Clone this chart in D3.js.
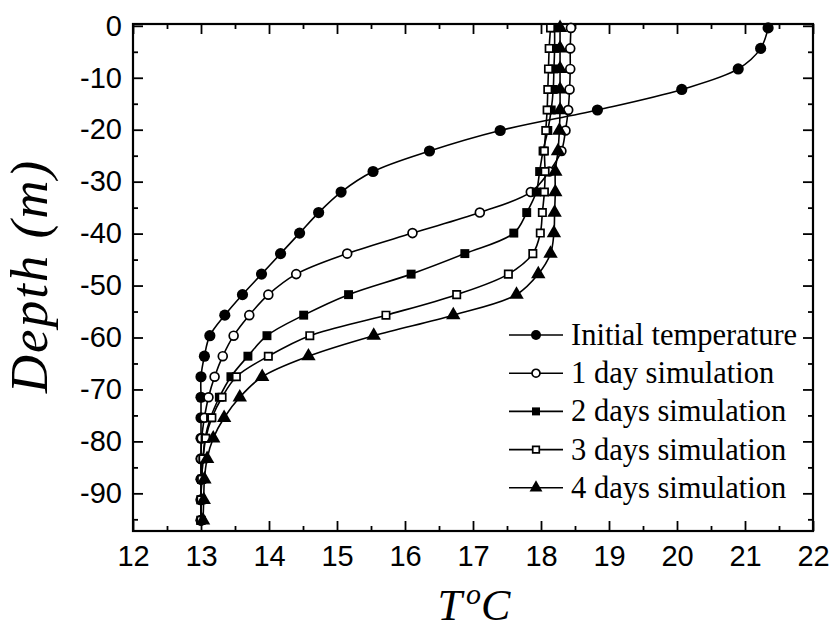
<!DOCTYPE html>
<html><head><meta charset="utf-8">
<script src="https://cdn.jsdelivr.net/npm/d3@7"></script>
<style>body{margin:0;background:#fff}svg{display:block}</style>
</head><body>
<script>
const depths = [-0.4,-4.35,-8.3,-12.25,-16.2,-20.15,-24.1,-28.05,-32.0,-35.95,-39.9,-43.85,-47.8,-51.75,-55.7,-59.65,-63.6,-67.55,-71.5,-75.45,-79.4,-83.35,-87.3,-91.25,-95.2];
const initialTemp = [21.34,21.23,20.90,20.07,18.83,17.40,16.36,15.53,15.06,14.73,14.45,14.17,13.89,13.61,13.35,13.13,13.05,13.00,13.00,13.00,13.00,13.00,13.00,13.00,13.00];
const day1 = [18.44,18.43,18.43,18.42,18.40,18.36,18.30,18.12,17.85,17.10,16.11,15.15,14.40,13.99,13.71,13.48,13.32,13.20,13.11,13.05,13.01,13.00,13.00,13.00,13.00];
const day2 = [18.20,18.20,18.19,18.18,18.15,18.10,18.03,17.98,17.93,17.79,17.60,16.88,16.09,15.17,14.51,13.97,13.69,13.44,13.27,13.14,13.06,13.03,13.01,13.00,13.00];
const day3 = [18.14,18.12,18.11,18.10,18.09,18.07,18.05,18.06,18.05,18.02,17.99,17.88,17.52,16.76,15.72,14.60,13.99,13.52,13.31,13.16,13.07,13.03,13.01,13.00,13.00];
const day4 = [18.28,18.28,18.28,18.28,18.28,18.27,18.25,18.21,18.21,18.20,18.19,18.14,17.96,17.64,16.71,15.54,14.58,13.90,13.57,13.34,13.18,13.09,13.05,13.04,13.03];
const seriesNames = ["Initial temperature","1 day simulation","2 days simulation","3 days simulation","4 days simulation"];
const xTicks = [12,13,14,15,16,17,18,19,20,21,22];
const yTicks = [0,-10,-20,-30,-40,-50,-60,-70,-80,-90];

const W = 832, H = 630;
const m = {left:133, top:24, right:19, bottom:99};
const svg = d3.select("body").append("svg").attr("width",W).attr("height",H);
const x = d3.scaleLinear().domain([12,22]).range([m.left, W-m.right]);
const y = d3.scaleLinear().domain([-97.25,0.35]).range([H-m.bottom, m.top]);

const styles = [
  {sym:d3.symbolCircle, size:98, fill:"#000", sw:0},
  {sym:d3.symbolCircle, size:62, fill:"#fff", sw:1.7},
  {sym:d3.symbolSquare, size:80, fill:"#000", sw:0},
  {sym:d3.symbolSquare, size:54, fill:"#fff", sw:1.7},
  {sym:d3.symbolTriangle, size:90, fill:"#000", sw:0}
];
const allSeries = [initialTemp, day1, day2, day3, day4];

// axes
const g = svg.append("g");
const minorX = d3.range(12.5,22,1);
const minorY = d3.range(-95,0,5).filter(v=>v%10!==0);
const axStyle = sel => { sel.select(".domain").remove(); sel.selectAll("line").attr("stroke","#000").attr("stroke-width",1.8); };
const tickFont = s=>s.selectAll("text").attr("font-family","Liberation Sans, Arial, sans-serif").attr("font-size",29).attr("fill","#000");

g.append("g").attr("transform",`translate(0,${H-m.bottom})`)
 .call(d3.axisBottom(x).tickValues(xTicks).tickSize(-10).tickPadding(14).tickFormat(d3.format("d")))
 .call(axStyle).call(tickFont);
g.append("g").attr("transform",`translate(0,${H-m.bottom})`)
 .call(d3.axisBottom(x).tickValues(minorX).tickSize(-5).tickFormat("")).call(axStyle);
g.append("g").attr("transform",`translate(0,${m.top})`)
 .call(d3.axisTop(x).tickValues(xTicks).tickSize(-10).tickFormat("")).call(axStyle);
g.append("g").attr("transform",`translate(0,${m.top})`)
 .call(d3.axisTop(x).tickValues(minorX).tickSize(-5).tickFormat("")).call(axStyle);

g.append("g").attr("transform",`translate(${m.left},0)`)
 .call(d3.axisLeft(y).tickValues(yTicks).tickSize(-10).tickPadding(11).tickFormat(d=>String(d)))
 .call(axStyle).call(tickFont);
g.append("g").attr("transform",`translate(${m.left},0)`)
 .call(d3.axisLeft(y).tickValues(minorY).tickSize(-5).tickFormat("")).call(axStyle);
g.append("g").attr("transform",`translate(${W-m.right},0)`)
 .call(d3.axisRight(y).tickValues(yTicks).tickSize(-10).tickFormat("")).call(axStyle);
g.append("g").attr("transform",`translate(${W-m.right},0)`)
 .call(d3.axisRight(y).tickValues(minorY).tickSize(-5).tickFormat("")).call(axStyle);

svg.append("rect").attr("x",m.left).attr("y",m.top).attr("width",W-m.left-m.right).attr("height",H-m.top-m.bottom)
 .attr("fill","none").attr("stroke","#000").attr("stroke-width",2.2);

// series
const line = d3.line().curve(d3.curveCatmullRom.alpha(0.5));
allSeries.forEach((vals,si)=>{
  const st = styles[si];
  const pts = vals.map((v,i)=>[x(v), y(depths[i])]);
  svg.append("path").attr("d",line(pts)).attr("fill","none").attr("stroke","#000").attr("stroke-width",1.6);
  svg.append("g").selectAll("path").data(pts).join("path")
    .attr("transform",d=>`translate(${d[0]},${d[1]})`)
    .attr("d",d3.symbol(st.sym, st.size))
    .attr("fill",st.fill).attr("stroke","#000").attr("stroke-width",st.sw);
});

// legend
const lg = svg.append("g");
seriesNames.forEach((name,i)=>{
  const st = styles[i];
  const yy = 335 + i*38.2;
  lg.append("line").attr("x1",509).attr("x2",563).attr("y1",yy).attr("y2",yy).attr("stroke","#000").attr("stroke-width",1.6);
  lg.append("path").attr("transform",`translate(536,${yy})`).attr("d",d3.symbol(st.sym, st.size*0.8))
    .attr("fill",st.fill).attr("stroke","#000").attr("stroke-width",st.sw);
  lg.append("text").attr("x",571).attr("y",yy+10).attr("font-family","Liberation Serif, Times New Roman, serif")
    .attr("font-size",30.5).attr("fill","#000").text(name);
});

// axis titles
const xt = svg.append("text").attr("x",474).attr("y",620).attr("text-anchor","middle")
  .attr("font-family","Liberation Serif, Times New Roman, serif").attr("font-style","italic").attr("font-size",44).attr("fill","#000");
xt.append("tspan").text("T");
xt.append("tspan").attr("dx",4).attr("dy",-16).attr("font-size",30).text("o");
xt.append("tspan").attr("dy",16).text("C");

svg.append("text").attr("transform","translate(47,276) rotate(-90)").attr("text-anchor","middle")
  .attr("font-family","Liberation Serif, Times New Roman, serif").attr("font-style","italic").attr("font-size",53)
  .attr("letter-spacing",2).attr("fill","#000")
  .text("Depth (m)");
</script>
</body></html>
